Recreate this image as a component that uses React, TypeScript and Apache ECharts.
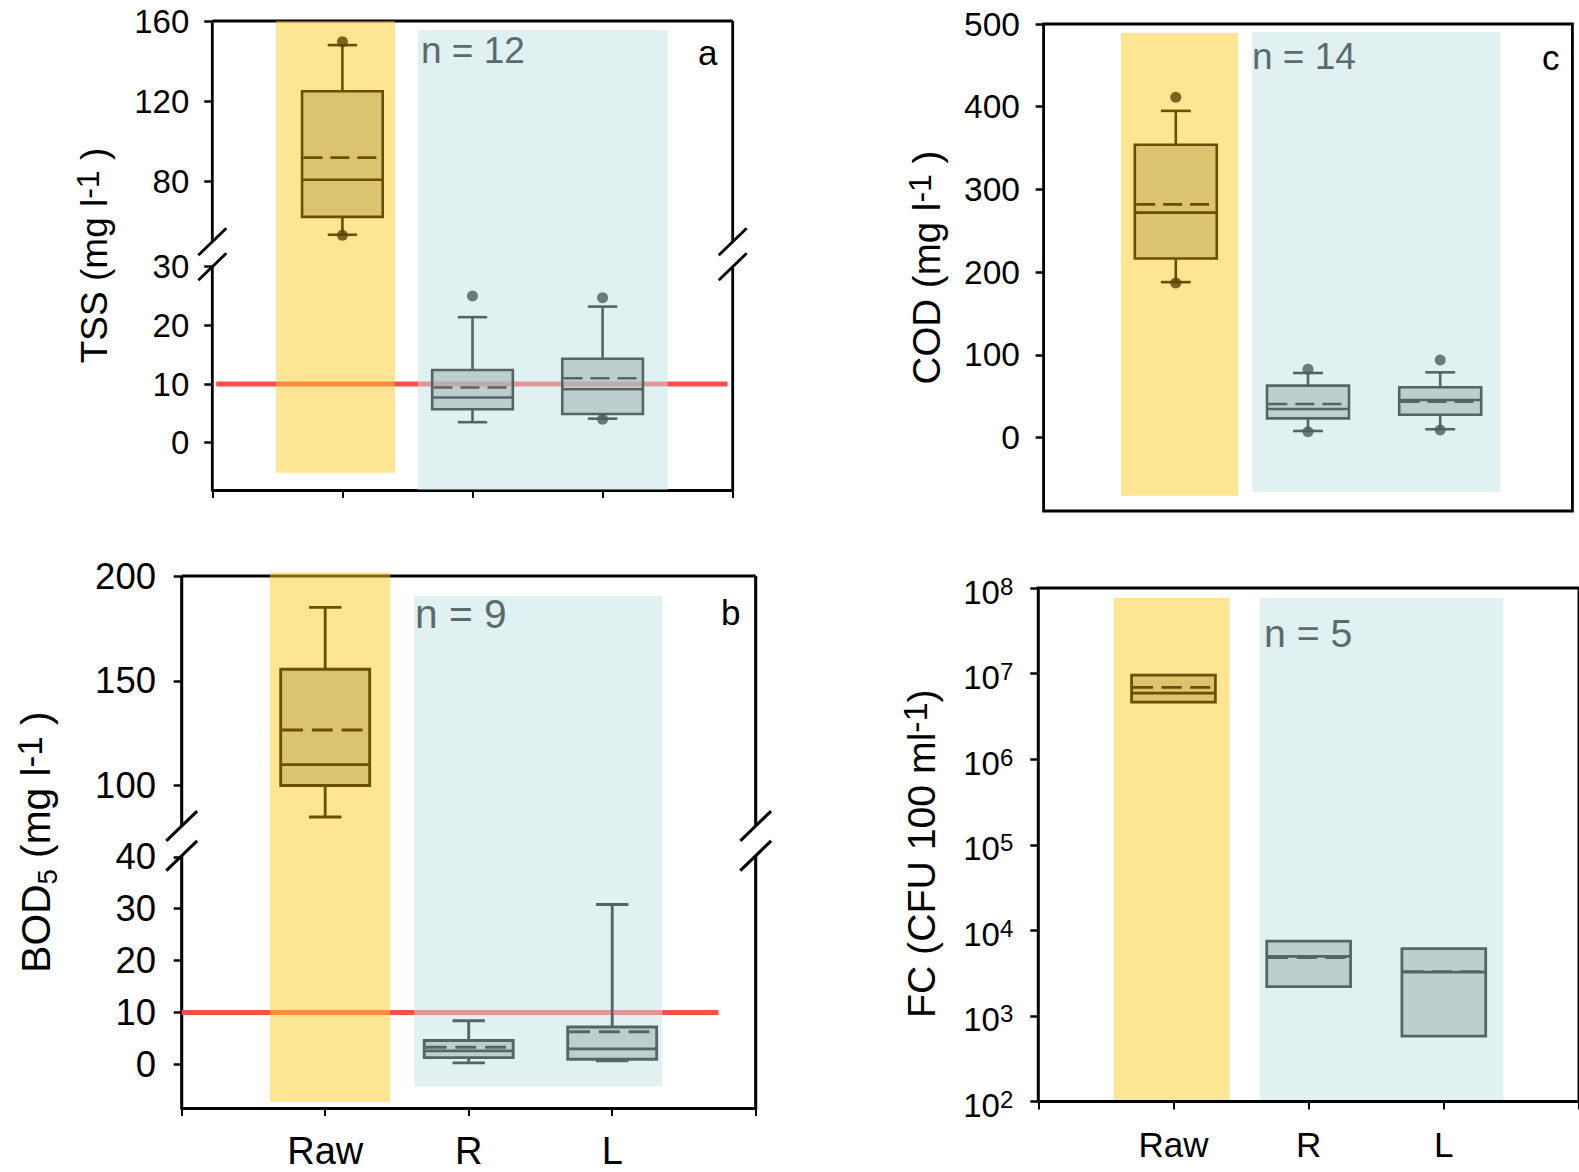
import { useEffect, useRef } from 'react';
import * as echarts from 'echarts';

const FONT = '"Liberation Sans", Arial, Helvetica, sans-serif';

// Sampling points shown at x = 1, 2, 3
const groups = ['Raw', 'R', 'L'];

// Box statistics per group: [lower whisker, Q1, median, Q3, upper whisker, mean]
const tssStats = [
  [53.6, 62.5, 81, 125, 148, 92],
  [3.5, 5.7, 7.7, 12.4, 21.4, 9.4],
  [4.1, 4.9, 9.1, 14.3, 23.2, 11],
];
// Outlying points: [group position, value]
const tssOutliers = [[1, 149.7], [1, 53.3], [2, 25], [3, 24.7], [3, 4]];

const codStats = [
  [188, 216.5, 272, 354, 395, 282],
  [8.1, 23.4, 34.7, 62.9, 78.2, 40.7],
  [10.2, 27.8, 45.6, 60.9, 79, 43.5],
];
const codOutliers = [[1, 411.6], [1, 187], [2, 82.7], [2, 7.3], [3, 94], [3, 9.3]];

const bodStats = [
  [85, 100, 110, 155.5, 185, 126.5],
  [0.3, 1.3, 2.6, 4.6, 8.4, 3.3],
  [0.7, 1.0, 3.0, 7.2, 30.8, 6.3],
];
const bodOutliers: number[][] = [];

// Faecal coliforms (CFU/100 ml), boxes only
const fcStats = [
  [null, 4.65e6, 5.9e6, 9.6e6, null, 6.9e6],
  [null, 2.2e3, 4.95e3, 7.5e3, null, 4.8e3],
  [null, 5.8e2, 3.25e3, 6.1e3, null, 3.3e3],
];

const sampleSizes = { tss: 12, cod: 14, bod: 9, fc: 5 };
const dischargeLimit = 10; // mg/l

const RAW_STYLE = { fill: 'rgba(197,171,88,0.6)', stroke: '#6b4e00', dot: '#5c4300' };
const TREATED_STYLE = { fill: 'rgba(167,183,183,0.6)', stroke: '#556565', dot: '#4d5c5c' };
const groupStyles = [RAW_STYLE, TREATED_STYLE, TREATED_STYLE];
const BAND_FILLS = ['rgba(253,203,41,0.5)', 'rgba(195,227,227,0.5)'];
const LIMIT_COLOR = '#ff4d4d';
const N_COLOR = '#5a6b6b';

const BOX_HALF = 0.31;
const CAP_HALF = 0.113;

interface Seg { min: number; max: number; ticks: number[] }
interface Panel {
  grid: { left: number; top: number; width: number; height: number };
  k: number;
  name: string;
  nameFont: number;
  nameGap: number;
  namePadding?: number[];
  lower: Seg;
  upper?: Seg;
  lowerTop?: number;
  upperBottom?: number;
  log?: boolean;
  stats: (number | null)[][];
  outliers: number[][];
  limit?: { value: number; from: number; to: number };
  rawBand: number[];
  treatedBand: number[];
  frame: 'broken' | 'box';
  xTicks: boolean;
  xLabels: boolean;
  xLabelFont?: number;
  xLabelMargin?: number;
  tickFont: number;
  labelMargin: number;
  n: number;
  nPos: [number, number];
  letter?: string;
  letterPos?: [number, number];
}

const panels: Panel[] = [
  {
    grid: { left: 212.3, top: 21, width: 520.4, height: 469 },
    k: 1,
    name: 'TSS (mg l{sup|-1} )',
    nameFont: 37,
    nameGap: 95,
    lower: { min: -8.06, max: 71.88, ticks: [0, 10, 20, 30] },
    upper: { min: -73.47, max: 160, ticks: [80, 120, 160] },
    lowerTop: 30,
    upperBottom: 50.1,
    stats: tssStats,
    outliers: tssOutliers,
    limit: { value: dischargeLimit, from: 0.03, to: 3.96 },
    rawBand: [0.49, 1.404, -5.1, 160],
    treatedBand: [1.58, 3.5, -8.06, 155.5],
    frame: 'broken',
    xTicks: true,
    xLabels: false,
    tickFont: 33,
    labelMargin: 23,
    n: sampleSizes.tss,
    nPos: [421, 50],
    letter: 'a',
    letterPos: [698, 52.5],
  },
  {
    grid: { left: 1043.6, top: 24, width: 528.8, height: 487 },
    k: 1,
    name: 'COD (mg l{sup|-1} )',
    nameFont: 38.5,
    nameGap: 94.5,
    lower: { min: -88.6, max: 500, ticks: [0, 100, 200, 300, 400, 500] },
    stats: codStats,
    outliers: codOutliers,
    rawBand: [0.585, 1.47, -70.2, 489.5],
    treatedBand: [1.577, 3.453, -65.7, 490.3],
    frame: 'box',
    xTicks: false,
    xLabels: false,
    tickFont: 33.5,
    labelMargin: 23.6,
    n: sampleSizes.cod,
    nPos: [1252, 56.3],
    letter: 'c',
    letterPos: [1542, 57.5],
  },
  {
    grid: { left: 181.7, top: 576, width: 574, height: 532 },
    k: 1.1,
    name: 'BOD{sub|5} (mg l{sup|-1} )',
    nameFont: 37,
    nameGap: 120.5,
    lower: { min: -8.4, max: 94.1, ticks: [0, 10, 20, 30, 40] },
    upper: { min: -53.9, max: 200, ticks: [100, 150, 200] },
    lowerTop: 40.2,
    upperBottom: 80.7,
    stats: bodStats,
    outliers: bodOutliers,
    limit: { value: dischargeLimit, from: 0, to: 3.74 },
    rawBand: [0.615, 1.454, -7.2, 201.7],
    treatedBand: [1.62, 3.35, -4.2, 190.5],
    frame: 'broken',
    xTicks: true,
    xLabels: true,
    xLabelFont: 38,
    xLabelMargin: 23,
    tickFont: 36.5,
    labelMargin: 25.7,
    n: sampleSizes.bod,
    nPos: [415, 614],
    letter: 'b',
    letterPos: [721, 612.6],
  },
  {
    grid: { left: 1038.3, top: 588, width: 550, height: 513.5 },
    k: 1.06,
    name: 'FC (CFU 100 ml{sup|-1})',
    nameFont: 37,
    nameGap: 93,
    namePadding: [0, 18, 0, 0],
    log: true,
    lower: { min: 100, max: 1e8, ticks: [] },
    stats: fcStats,
    outliers: [],
    rawBand: [0.557, 1.415, 104, 7.65e7],
    treatedBand: [1.64, 3.44, 104, 7.65e7],
    frame: 'box',
    xTicks: true,
    xLabels: true,
    xLabelFont: 35,
    xLabelMargin: 24.5,
    tickFont: 33,
    labelMargin: 25,
    n: sampleSizes.fc,
    nPos: [1264, 633],
  },
];

// Map a value of the upper (broken) scale onto the lower scale of the same grid
function toLowerScale(p: Panel, v: number) {
  const u = p.upper!;
  return p.lower.min + ((v - u.min) * (p.lower.max - p.lower.min)) / (u.max - u.min);
}

function boxRenderer(k: number) {
  return (_params: any, api: any) => {
    const x = api.value(0);
    const st = groupStyles[Math.round(x) - 1];
    const lo = api.value(1);
    const q1 = api.value(2);
    const med = api.value(3);
    const q3 = api.value(4);
    const hi = api.value(5);
    const mean = api.value(6);
    const hasWhiskers = api.value(7) === 1;
    const lw = 2.6 * k;
    const seg = (x1: number, y1: number, x2: number, y2: number, extra: any = {}) => {
      const a = api.coord([x1, y1]);
      const b = api.coord([x2, y2]);
      return {
        type: 'line',
        shape: { x1: a[0], y1: a[1], x2: b[0], y2: b[1] },
        style: { stroke: st.stroke, lineWidth: lw, fill: null, ...extra },
      };
    };
    const children: any[] = [];
    if (hasWhiskers) {
      children.push(
        seg(x, q3, x, hi),
        seg(x - CAP_HALF, hi, x + CAP_HALF, hi),
        seg(x, q1, x, lo),
        seg(x - CAP_HALF, lo, x + CAP_HALF, lo),
      );
    }
    const tl = api.coord([x - BOX_HALF, q3]);
    const br = api.coord([x + BOX_HALF, q1]);
    children.push({
      type: 'rect',
      shape: { x: tl[0], y: tl[1], width: br[0] - tl[0], height: br[1] - tl[1] },
      style: { fill: st.fill, stroke: st.stroke, lineWidth: lw },
    });
    children.push(seg(x - BOX_HALF, med, x + BOX_HALF, med));
    children.push(seg(x - BOX_HALF + 0.01, mean, x + BOX_HALF - 0.01, mean, { lineDash: [19 * k, 8 * k] }));
    return { type: 'group', children };
  };
}

function bandRenderer(_params: any, api: any) {
  const tl = api.coord([api.value(0), api.value(3)]);
  const br = api.coord([api.value(1), api.value(2)]);
  return {
    type: 'rect',
    shape: { x: tl[0], y: tl[1], width: br[0] - tl[0], height: br[1] - tl[1] },
    style: { fill: BAND_FILLS[api.value(4)] },
  };
}

function brokenFrameRenderer(p: Panel) {
  return (_params: any, api: any) => {
    const lw = 2.8 * p.k;
    const st = { stroke: '#000', lineWidth: lw, fill: null };
    const dx = 14 * p.k;
    const dy = 13.5 * p.k;
    const yTop = toLowerScale(p, p.upper!.max);
    const yUB = toLowerScale(p, p.upperBottom!);
    const yLT = p.lowerTop!;
    const yBot = p.lower.min;
    const ln = (a: number[], b: number[]) => ({ type: 'line', shape: { x1: a[0], y1: a[1], x2: b[0], y2: b[1] }, style: st });
    const children: any[] = [];
    for (const xv of [0, 4]) {
      const a = api.coord([xv, yTop]);
      const b = api.coord([xv, yUB]);
      const c = api.coord([xv, yLT]);
      const d = api.coord([xv, yBot]);
      children.push(ln(a, b), ln(c, d));
      for (const s of [b, c]) {
        children.push(ln([s[0] - dx, s[1] + dy], [s[0] + dx, s[1] - dy]));
      }
    }
    children.push(ln(api.coord([0, yTop]), api.coord([4, yTop])));
    return { type: 'group', children };
  };
}

function buildOption() {
  const grids: any[] = [];
  const xAxes: any[] = [];
  const yAxes: any[] = [];
  const series: any[] = [];
  const graphics: any[] = [];

  panels.forEach((p, gi) => {
    const k = p.k;
    grids.push({
      ...p.grid,
      show: p.frame === 'box',
      borderColor: '#000',
      borderWidth: 2.8 * k,
      backgroundColor: 'transparent',
    });

    xAxes.push({
      gridIndex: gi,
      type: 'value',
      position: 'bottom',
      min: 0,
      max: 4,
      interval: 1,
      axisLine: { show: p.frame === 'broken', onZero: false, lineStyle: { color: '#000', width: 2.8 * k } },
      axisTick: { show: p.xTicks, length: 8, lineStyle: { color: '#000', width: 2 } },
      axisLabel: {
        show: p.xLabels,
        customValues: [1, 2, 3],
        formatter: (v: number) => groups[Math.round(v) - 1] ?? '',
        fontFamily: FONT,
        fontSize: p.xLabelFont ?? 34,
        lineHeight: (p.xLabelFont ?? 34) + 2,
        margin: p.xLabelMargin ?? 22,
        color: '#000',
      },
      splitLine: { show: false },
    });

    const nf = p.nameFont * k;
    const nameTextStyle = {
      fontFamily: FONT,
      fontSize: nf,
      lineHeight: 45 * k,
      color: '#000',
      padding: p.namePadding ?? 0,
      rich: {
        sup: { fontFamily: FONT, fontSize: 32 * k, lineHeight: 21 * k, verticalAlign: 'top', color: '#000' },
        sub: { fontFamily: FONT, fontSize: 25 * k, lineHeight: 25 * k, verticalAlign: 'bottom', color: '#000' },
      },
    };

    const tickStyle = { show: true, length: 8, inside: false, lineStyle: { color: '#000', width: 2.5 } };
    const labelStyle = { fontFamily: FONT, fontSize: p.tickFont, color: '#000', margin: p.labelMargin };

    const lowerIdx = yAxes.length;
    if (p.log) {
      yAxes.push({
        gridIndex: gi,
        type: 'log',
        logBase: 10,
        position: 'left',
        min: p.lower.min,
        max: p.lower.max,
        splitNumber: 6,
        name: p.name,
        nameLocation: 'middle',
        nameRotate: 90,
        nameGap: p.nameGap,
        nameTextStyle,
        axisLine: { show: false, onZero: false },
        axisTick: tickStyle,
        axisLabel: {
          ...labelStyle,
          padding: [8, 0, 0, 0],
          formatter: (v: number) => `{b|10}{s|${Math.round(Math.log10(v))}}`,
          rich: {
            b: { fontFamily: FONT, fontSize: p.tickFont, lineHeight: 36, color: '#000' },
            s: { fontFamily: FONT, fontSize: 24, lineHeight: 21, verticalAlign: 'top', color: '#000' },
          },
        },
        splitLine: { show: false },
      });
    } else {
      yAxes.push({
        gridIndex: gi,
        type: 'value',
        position: 'left',
        min: p.lower.min,
        max: p.lower.max,
        name: p.name,
        nameLocation: 'middle',
        nameRotate: 90,
        nameGap: p.nameGap,
        nameTextStyle,
        axisLine: { show: false, onZero: false },
        axisTick: { ...tickStyle, customValues: p.lower.ticks },
        axisLabel: { ...labelStyle, customValues: p.lower.ticks },
        splitLine: { show: false },
      });
    }
    let upperIdx = -1;
    if (p.upper) {
      upperIdx = yAxes.length;
      yAxes.push({
        gridIndex: gi,
        type: 'value',
        position: 'left',
        offset: 0,
        min: p.upper.min,
        max: p.upper.max,
        axisLine: { show: false, onZero: false },
        axisTick: { ...tickStyle, customValues: p.upper.ticks },
        axisLabel: { ...labelStyle, customValues: p.upper.ticks },
        splitLine: { show: false },
      });
    }

    // Frame of a broken-axis panel
    if (p.frame === 'broken') {
      series.push({
        type: 'custom',
        coordinateSystem: 'cartesian2d',
        xAxisIndex: gi,
        yAxisIndex: lowerIdx,
        silent: true,
        z: 1,
        renderItem: brokenFrameRenderer(p),
        data: [[0, 0]],
      });
    }

    // Discharge limit line
    if (p.limit) {
      series.push({
        type: 'line',
        xAxisIndex: gi,
        yAxisIndex: lowerIdx,
        silent: true,
        symbol: 'none',
        z: 2,
        lineStyle: { color: LIMIT_COLOR, width: 5 },
        data: [[p.limit.from, p.limit.value], [p.limit.to, p.limit.value]],
      });
    }

    // Shaded bands behind raw and treated groups
    const bandTop = (v: number) => (p.upper ? toLowerScale(p, v) : v);
    series.push({
      type: 'custom',
      coordinateSystem: 'cartesian2d',
      xAxisIndex: gi,
      yAxisIndex: lowerIdx,
      silent: true,
      z: 3,
      renderItem: bandRenderer,
      data: [
        [p.rawBand[0], p.rawBand[1], p.rawBand[2], bandTop(p.rawBand[3]), 0],
        [p.treatedBand[0], p.treatedBand[1], p.treatedBand[2], bandTop(p.treatedBand[3]), 1],
      ],
    });

    // Box plots, each on the scale segment that holds it
    const lowerBoxes: any[] = [];
    const upperBoxes: any[] = [];
    p.stats.forEach((s, i) => {
      const [lo, q1, med, q3, hi, mean] = s as number[];
      const has = lo !== null && hi !== null;
      const row = [i + 1, has ? lo : q1, q1, med, q3, has ? hi : q3, mean, has ? 1 : 0];
      const minVal = has ? lo : q1;
      if (p.upper && minVal >= p.upperBottom!) upperBoxes.push(row);
      else lowerBoxes.push(row);
    });
    const boxSeries = (data: any[], yIdx: number) => ({
      type: 'custom',
      coordinateSystem: 'cartesian2d',
      xAxisIndex: gi,
      yAxisIndex: yIdx,
      silent: true,
      z: 4,
      renderItem: boxRenderer(k),
      data,
    });
    if (lowerBoxes.length) series.push(boxSeries(lowerBoxes, lowerIdx));
    if (upperBoxes.length) series.push(boxSeries(upperBoxes, upperIdx));

    // Outliers
    const lowerDots: any[] = [];
    const upperDots: any[] = [];
    p.outliers.forEach(([gx, v]) => {
      const item = { value: [gx, v], itemStyle: { color: groupStyles[gx - 1].dot } };
      if (p.upper && v >= p.upperBottom!) upperDots.push(item);
      else lowerDots.push(item);
    });
    const dotSeries = (data: any[], yIdx: number) => ({
      type: 'scatter',
      xAxisIndex: gi,
      yAxisIndex: yIdx,
      silent: true,
      z: 5,
      symbol: 'circle',
      symbolSize: 11 * k,
      data,
    });
    if (lowerDots.length) series.push(dotSeries(lowerDots, lowerIdx));
    if (upperDots.length) series.push(dotSeries(upperDots, upperIdx));

    graphics.push({
      type: 'text',
      x: p.nPos[0],
      y: p.nPos[1],
      z: 100,
      silent: true,
      style: {
        text: `n = ${p.n}`,
        fill: N_COLOR,
        fontFamily: FONT,
        fontSize: 37 * k,
        textAlign: 'left',
        textVerticalAlign: 'middle',
        align: 'left',
        verticalAlign: 'middle',
      },
    });
    if (p.letter && p.letterPos) {
      graphics.push({
        type: 'text',
        x: p.letterPos[0],
        y: p.letterPos[1],
        z: 100,
        silent: true,
        style: {
          text: p.letter,
          fill: '#000',
          fontFamily: FONT,
          fontSize: 35,
          textAlign: 'left',
          textVerticalAlign: 'middle',
          align: 'left',
          verticalAlign: 'middle',
        },
      });
    }
  });

  return {
    animation: false,
    backgroundColor: '#fff',
    textStyle: { fontFamily: FONT },
    grid: grids,
    xAxis: xAxes,
    yAxis: yAxes,
    series,
    graphic: graphics,
  };
}

export default function App() {
  const ref = useRef<HTMLDivElement>(null);
  useEffect(() => {
    if (!ref.current) return;
    const chart = echarts.init(ref.current, null, { renderer: 'svg' });
    chart.setOption(buildOption() as any);
    return () => chart.dispose();
  }, []);
  return (
    <div
      ref={ref}
      style={{ position: 'fixed', left: 0, top: 0, width: 1579, height: 1172, background: '#fff' }}
    />
  );
}
